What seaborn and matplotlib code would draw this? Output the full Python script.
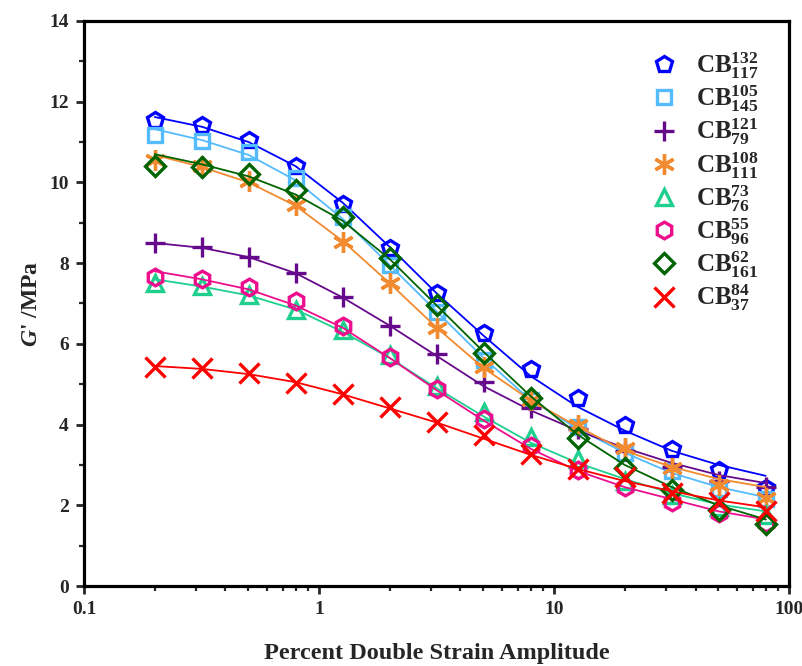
import numpy as np
import pandas as pd
import matplotlib
matplotlib.use("Agg")
import matplotlib.pyplot as plt
import seaborn as sns
from matplotlib.ticker import FixedLocator, LogLocator, NullFormatter, FixedFormatter, MultipleLocator

sns.set_theme(style="white")
plt.rcParams['font.family'] = ['Liberation Serif', 'DejaVu Serif']
plt.rcParams['font.weight'] = 'bold'
plt.rcParams['mathtext.fontset'] = 'custom'
plt.rcParams['mathtext.rm'] = 'Liberation Serif:bold'
plt.rcParams['mathtext.bf'] = 'Liberation Serif:bold'
plt.rcParams['mathtext.it'] = 'Liberation Serif:italic:bold'
plt.rcParams['mathtext.bfit'] = 'Liberation Serif:italic:bold'

# strain amplitude (%)
strain = [0.2, 0.317, 0.502, 0.796, 1.26, 2.0, 3.17, 5.02, 7.96, 12.6, 20.0, 31.7, 50.2, 79.6]

labels = [r'$\mathbf{CB}_{\mathbf{117}}^{\mathbf{132}}$',
          r'$\mathbf{CB}_{\mathbf{145}}^{\mathbf{105}}$',
          r'$\mathbf{CB}_{\mathbf{79}}^{\mathbf{121}}$',
          r'$\mathbf{CB}_{\mathbf{111}}^{\mathbf{108}}$',
          r'$\mathbf{CB}_{\mathbf{76}}^{\mathbf{73}}$',
          r'$\mathbf{CB}_{\mathbf{96}}^{\mathbf{55}}$',
          r'$\mathbf{CB}_{\mathbf{161}}^{\mathbf{62}}$',
          r'$\mathbf{CB}_{\mathbf{37}}^{\mathbf{84}}$']

# measured G' (MPa)
g_132_117 = [11.55, 11.42, 11.05, 10.40, 9.46, 8.37, 7.26, 6.27, 5.38, 4.65, 3.99, 3.39, 2.87, 2.44]
g_105_145 = [11.17, 11.03, 10.75, 10.10, 9.15, 7.95, 6.80, 5.60, 4.60, 3.95, 3.30, 2.85, 2.40, 2.15]
g_121_79  = [8.50, 8.40, 8.16, 7.75, 7.16, 6.44, 5.75, 5.06, 4.41, 3.90, 3.35, 2.95, 2.60, 2.45]
g_108_111 = [10.55, 10.40, 10.04, 9.44, 8.53, 7.50, 6.39, 5.43, 4.60, 3.99, 3.42, 2.92, 2.50, 2.18]
g_73_76   = [7.50, 7.43, 7.20, 6.85, 6.35, 5.72, 4.95, 4.32, 3.70, 3.15, 2.60, 2.25, 1.95, 1.75]
g_55_96   = [7.65, 7.60, 7.42, 7.05, 6.44, 5.68, 4.88, 4.14, 3.47, 2.87, 2.46, 2.09, 1.80, 1.57]
g_62_161  = [10.40, 10.39, 10.20, 9.81, 9.14, 8.13, 6.96, 5.78, 4.66, 3.66, 2.93, 2.38, 1.88, 1.54]
g_84_37   = [5.43, 5.40, 5.28, 5.04, 4.76, 4.43, 4.07, 3.74, 3.28, 2.90, 2.70, 2.30, 2.09, 1.85]

# fitted curves (MPa) read at the same strains
f_132_117 = [11.62, 11.38, 11.00, 10.40, 9.50, 8.40, 7.25, 6.20, 5.20, 4.44, 3.85, 3.35, 3.00, 2.73]
f_105_145 = [11.32, 11.05, 10.68, 10.05, 9.10, 7.95, 6.80, 5.65, 4.60, 3.90, 3.30, 2.80, 2.45, 2.20]
f_121_79  = [8.50, 8.38, 8.15, 7.75, 7.15, 6.45, 5.70, 4.95, 4.35, 3.85, 3.42, 3.05, 2.75, 2.55]
f_108_111 = [10.68, 10.38, 10.00, 9.42, 8.55, 7.50, 6.40, 5.40, 4.60, 3.95, 3.35, 2.95, 2.65, 2.45]
f_73_76   = [7.60, 7.42, 7.20, 6.85, 6.30, 5.65, 4.90, 4.20, 3.55, 3.05, 2.65, 2.30, 2.02, 1.85]
f_55_96   = [7.80, 7.60, 7.35, 6.95, 6.40, 5.65, 4.85, 4.10, 3.40, 2.85, 2.45, 2.15, 1.85, 1.65]
f_62_161  = [10.70, 10.45, 10.15, 9.70, 9.05, 8.10, 6.95, 5.80, 4.70, 3.75, 3.00, 2.45, 2.00, 1.65]
f_84_37   = [5.45, 5.38, 5.25, 5.05, 4.75, 4.40, 4.05, 3.65, 3.25, 2.90, 2.60, 2.35, 2.12, 1.95]

measured = [g_132_117, g_105_145, g_121_79, g_108_111, g_73_76, g_55_96, g_62_161, g_84_37]
fits = [f_132_117, f_105_145, f_121_79, f_108_111, f_73_76, f_55_96, f_62_161, f_84_37]

colors = ['#0000FF', '#55BBFF', '#660A8C', '#F28A30', '#1FCF8E', '#EC0E8C', '#006400', '#FF0000']
markers = ['p', 's', '+', (6, 2, 0), '^', 'h', 'D', 'x']
msizes = [12, 10, 14, 15, 11, 12, 10, 14]

fig = plt.figure(figsize=(8.03, 6.66), dpi=100)
ax = fig.add_axes([0.1046, 0.1201, 0.878, 0.8484])

for lab, gm, gf, c, m, ms in zip(labels, measured, fits, colors, markers, msizes):
    sns.lineplot(x=strain, y=gf, ax=ax, color=c, linewidth=1.3, sort=False)
    sns.lineplot(x=strain, y=gm, ax=ax, linestyle='', marker=m, markersize=ms,
                 markerfacecolor='none', markeredgecolor=c, markeredgewidth=2.4,
                 color=c, label=lab, sort=False)

ax.set_xscale('log')
ax.set_xlim(0.1, 100)
ax.set_ylim(0, 14)
ax.xaxis.set_major_locator(FixedLocator([0.1, 1, 10, 100]))
ax.xaxis.set_major_formatter(FixedFormatter(['0.1', '1', '10', '100']))
ax.xaxis.set_minor_locator(LogLocator(base=10, subs=np.arange(2, 10)))
ax.xaxis.set_minor_formatter(NullFormatter())
ax.yaxis.set_major_locator(MultipleLocator(2))
ax.yaxis.set_minor_locator(MultipleLocator(1))

for s in ax.spines.values():
    s.set_linewidth(2.3)
    s.set_color('black')
ax.tick_params(axis='both', which='major', direction='out', length=6, width=2.0,
               labelsize=14, pad=5, bottom=True, left=True, top=False, right=False)
ax.tick_params(axis='both', which='minor', direction='out', length=3.5, width=1.6,
               bottom=True, left=True, top=False, right=False)
for t in ax.get_xticklabels() + ax.get_yticklabels():
    t.set_fontweight('bold')

ax.set_xlabel('Percent Double Strain Amplitude', fontsize=17.5, fontweight='bold', labelpad=18)
ax.set_ylabel(r"$\mathbfit{G}$' /MPa", fontsize=17, fontweight='bold', labelpad=5)

leg = ax.legend(loc='upper left', bbox_to_anchor=(0.773, 0.975), frameon=False,
                fontsize=18, labelspacing=0.09, handletextpad=0.5, handlelength=1.6,
                borderaxespad=0.2)

fig.savefig('out.png', dpi=100)
